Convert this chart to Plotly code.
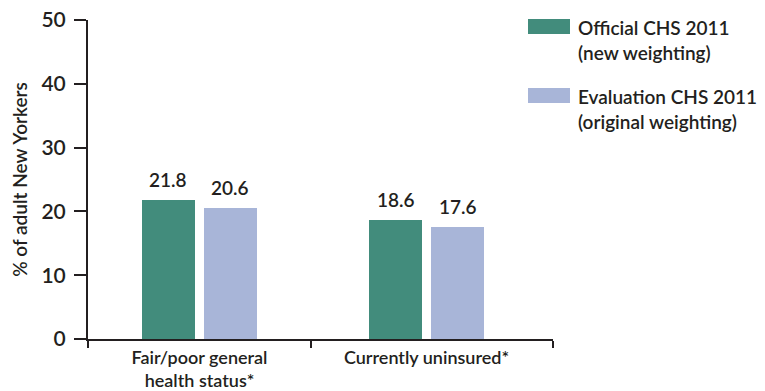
import plotly.graph_objects as go

# Survey comparison: share of adult New Yorkers, two weighting schemes
categories = ["Fair/poor general<br>health status*", "Currently uninsured*"]
official_new = [21.8, 18.6]
evaluation_orig = [20.6, 17.6]
series_names = ["Official CHS 2011", "Evaluation CHS 2011"]
series_notes = ["(new weighting)", "(original weighting)"]
y_ticks = [0, 10, 20, 30, 40, 50]

GREEN = "#428C7C"
BLUE = "#A8B5D8"
INK = "#231F20"
FONT = "Lato"
W = 600

xpos = list(range(len(categories)))
bar_w = 0.2335
offsets = [-0.2533, 0.0198]

fig = go.Figure()
for vals, color, off, name in zip([official_new, evaluation_orig], [GREEN, BLUE], offsets, series_names):
    fig.add_trace(go.Bar(
        x=xpos, y=vals, width=bar_w, offset=off,
        marker=dict(color=color, line=dict(width=0)),
        name=name, showlegend=False, hoverinfo="skip",
    ))
    # value labels above each bar
    for xi, v in zip(xpos, vals):
        fig.add_annotation(
            x=xi + off + bar_w / 2, y=v, text=f"{v:.1f}",
            showarrow=False, yanchor="bottom", yshift=7,
            font=dict(family=FONT, size=19, color=INK, weight=W),
        )

# legend drawn as swatches + two-line labels
legend_rows = [(0.0, GREEN), (1.0, BLUE)]
for (row, color), name, note in zip(legend_rows, series_names, series_notes):
    top = 19 + row * 69
    fig.add_shape(type="rect", xref="paper", yref="paper",
                  x0=(528 - 88) / 465, x1=(570 - 88) / 465,
                  y0=1 - (top + 15 - 20) / 319, y1=1 - (top - 20) / 319,
                  fillcolor=color, line=dict(width=0))
    fig.add_annotation(xref="paper", yref="paper",
                       x=(576 - 88) / 465, y=1 - (top - 5 - 20) / 319,
                       xanchor="left", yanchor="top", align="left",
                       text=f"{name}<br>{note}", showarrow=False,
                       font=dict(family=FONT, size=19, color=INK, weight=W))

fig.update_layout(
    width=765, height=391,
    margin=dict(l=88, r=212, t=20, b=52, autoexpand=False),
    plot_bgcolor="white", paper_bgcolor="white",
    font=dict(family=FONT, size=18, color=INK),
    bargap=0,
    xaxis=dict(
        range=[-0.491, 1.557], automargin=False,
        tickmode="array", tickvals=xpos, ticktext=categories,
        ticks="", showgrid=False, zeroline=False,
        showline=True, linecolor=INK, linewidth=2,
        ticklabelstandoff=1,
        tickfont=dict(family=FONT, size=18, color=INK, weight=W),
        minor=dict(tickmode="array", tickvals=[-0.491, 0.491, 1.557],
                   ticks="outside", ticklen=7, tickwidth=2, tickcolor=INK),
    ),
    yaxis=dict(
        range=[0, 50], tickvals=y_ticks, automargin=False,
        ticks="outside", ticklen=12, tickwidth=2, tickcolor=INK,
        ticklabelstandoff=4,
        showgrid=False, zeroline=False,
        showline=True, linecolor=INK, linewidth=2,
        tickfont=dict(family=FONT, size=21, color=INK, weight=W),
        title=dict(text="% of adult New Yorkers", standoff=9,
                   font=dict(family=FONT, size=19, color=INK, weight=W)),
    ),
)

fig.write_html("out.html")
